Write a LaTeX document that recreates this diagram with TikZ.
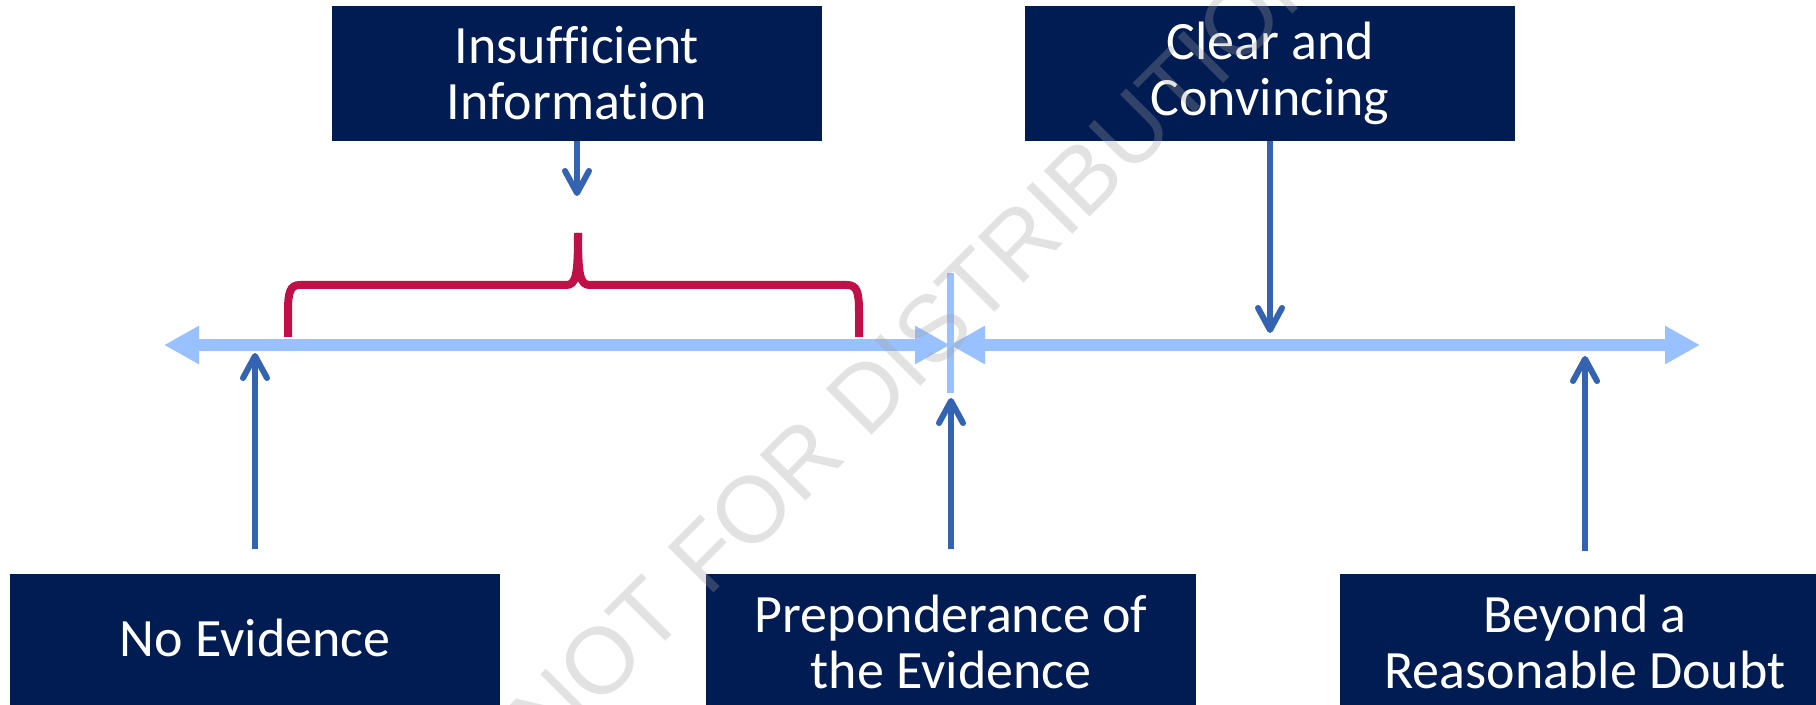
\documentclass[tikz,border=0pt]{standalone}
\usepackage{fontspec}
\setmainfont{Carlito}[Ligatures=NoCommon]
\newfontfamily\wmfont{Liberation Sans}
\usetikzlibrary{arrows.meta}
\definecolor{navy}{RGB}{1,28,82}
\definecolor{lineblue}{RGB}{153,193,255}
\definecolor{arrowblue}{RGB}{52,99,178}
\definecolor{crimson}{RGB}{192,16,72}
\definecolor{wmgray}{RGB}{160,160,160}
\begin{document}
\begin{tikzpicture}[x=0.5pt,y=-0.5pt,
  box/.style={fill=navy, text=white, minimum width=245pt, minimum height=67.5pt,
    inner sep=0pt, align=center, font=\fontsize{27}{28}\selectfont},
  axisline/.style={draw=lineblue, line width=6pt,
    {Triangle[length=17.5pt,width=18pt]}-{Triangle[length=17.5pt,width=18pt]}},
  pointer/.style={draw=arrowblue, line width=3pt,
    -{Straight Barb[length=11pt,width=12pt,round]}},
  bracestyle/.style={draw=crimson, line width=4pt},
  wm/.style={text=wmgray, text opacity=0.3, inner sep=0pt,
    font=\wmfont\fontsize{47}{47}\selectfont}]
\clip (0,0) rectangle (1816,705);

% axis
\coordinate (axL) at (164,345);
\coordinate (axM) at (950,345);
\coordinate (axR) at (1700,345);
\coordinate (divT) at (950,273);
\coordinate (divB) at (950,393);
\draw[axisline] (axL) -- (axM);
\draw[axisline] (axM) -- (axR);
\draw[draw=lineblue, line width=3.5pt] (divT) -- (divB);

% brace
\draw[bracestyle] (288,337) -- (288,312) .. controls (288,292) and (290,285) .. (300,285)
  -- (566,285) .. controls (576,285) and (578,276) .. (578,233);
\draw[bracestyle] (859,337) -- (859,312) .. controls (859,292) and (857,285) .. (847,285)
  -- (590,285) .. controls (580,285) and (578,276) .. (578,233);

% boxes
\node[box] (insuf) at (577,73.5) {Insufficient\\Information};
\node[box] (clear) at (1270,73.5) {Clear and\\Convincing};
\node[box, text depth=4pt] (noev) at (255,641.5) {No Evidence};
\node[box] (prep) at (951,641.5) {Preponderance of\\the Evidence};
\node[box] (beyond) at (1585,641.5) {Beyond a\\Reasonable Doubt};

% pointer tips
\coordinate (tipA) at (577,196);
\coordinate (tipB) at (1270,333);
\coordinate (tipC) at (255,353);
\coordinate (tipD) at (951,398);
\coordinate (tipE) at (1585,356);

\draw[pointer] (insuf.south) -- (tipA);
\draw[pointer] (clear.south) -- (tipB);
\draw[pointer, shorten <=12.5pt] (noev.north) -- (tipC);
\draw[pointer, shorten <=12.5pt] (prep.north) -- (tipD);
\draw[pointer, shorten <=11.5pt] (beyond.north) -- (tipE);

% watermark
\node[wm, rotate=45, anchor=base west] (mark) at (549,758) {NOT FOR DISTRIBUTION};
\end{tikzpicture}
\end{document}
